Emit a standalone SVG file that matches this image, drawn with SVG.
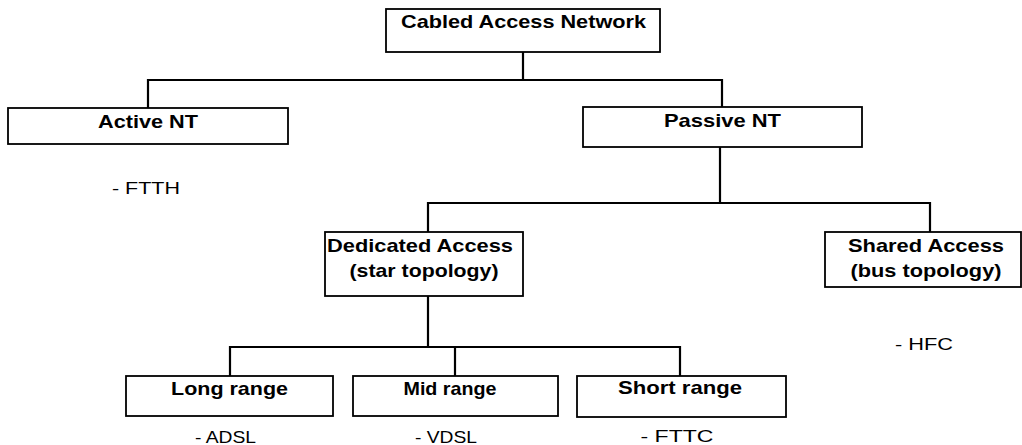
<svg xmlns="http://www.w3.org/2000/svg" width="1022" height="445" viewBox="0 0 1022 445">
<style>
.box{fill:#fff;stroke:#000;stroke-width:1.8}
.con{fill:none;stroke:#000;stroke-width:2.2}
.t{font-family:"Liberation Sans",Arial,sans-serif;font-weight:bold;font-size:19px;text-anchor:middle;fill:#000}
.n{font-family:"Liberation Sans",Arial,sans-serif;font-size:17px;text-anchor:middle;fill:#000}
</style>
<rect width="1022" height="445" fill="#fff"/>
<g id="connectors">
<path class="con" d="M523 52V80M148 108V80H722V107"/>
<path class="con" d="M720 147V203M428 232V203H930V232"/>
<path class="con" d="M428 296V347M230 376V347H680V376M455 347V376"/>
</g>
<g id="cabled">
<rect class="box" x="386" y="9" width="274" height="43"/>
<text class="t" x="523.5" y="28" textLength="245" lengthAdjust="spacingAndGlyphs">Cabled Access Network</text>
</g>
<g id="active">
<rect class="box" x="8" y="108" width="280" height="36"/>
<text class="t" x="148" y="128" textLength="100" lengthAdjust="spacingAndGlyphs">Active NT</text>
<text class="n" x="146" y="194" textLength="68" lengthAdjust="spacingAndGlyphs">- FTTH</text>
</g>
<g id="passive">
<rect class="box" x="583" y="107" width="279" height="40"/>
<text class="t" x="722.5" y="127" textLength="117" lengthAdjust="spacingAndGlyphs">Passive NT</text>
</g>
<g id="dedicated">
<rect class="box" x="325" y="232" width="198" height="64"/>
<text class="t" x="420" y="252" textLength="186" lengthAdjust="spacingAndGlyphs">Dedicated Access</text>
<text class="t" x="424" y="277" textLength="149" lengthAdjust="spacingAndGlyphs">(star topology)</text>
</g>
<g id="shared">
<rect class="box" x="825" y="232" width="196" height="55"/>
<text class="t" x="926" y="252" textLength="156" lengthAdjust="spacingAndGlyphs">Shared Access</text>
<text class="t" x="926" y="277" textLength="151" lengthAdjust="spacingAndGlyphs">(bus topology)</text>
<text class="n" x="924" y="350" textLength="58" lengthAdjust="spacingAndGlyphs">- HFC</text>
</g>
<g id="long">
<rect class="box" x="126" y="376" width="207" height="40"/>
<text class="t" x="229.5" y="395" textLength="117" lengthAdjust="spacingAndGlyphs">Long range</text>
<text class="n" x="225.5" y="443" textLength="61" lengthAdjust="spacingAndGlyphs">- ADSL</text>
</g>
<g id="mid">
<rect class="box" x="353" y="376" width="205" height="40"/>
<text class="t" x="450" y="395" textLength="93" lengthAdjust="spacingAndGlyphs">Mid range</text>
<text class="n" x="446" y="443" textLength="62" lengthAdjust="spacingAndGlyphs">- VDSL</text>
</g>
<g id="short">
<rect class="box" x="577" y="376" width="209" height="41"/>
<text class="t" x="680" y="394" textLength="124" lengthAdjust="spacingAndGlyphs">Short range</text>
<text class="n" x="677" y="442" textLength="73" lengthAdjust="spacingAndGlyphs">- FTTC</text>
</g>
</svg>
